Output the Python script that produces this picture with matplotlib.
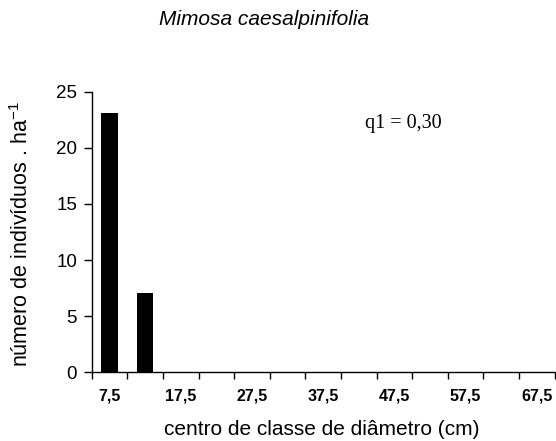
import matplotlib
matplotlib.use("Agg")
import matplotlib.pyplot as plt
import numpy as np

categories = [7.5, 12.5, 17.5, 22.5, 27.5, 32.5, 37.5, 42.5, 47.5, 52.5, 57.5, 62.5, 67.5]
values = [23.1, 7.1, 0, 0, 0, 0, 0, 0, 0, 0, 0, 0, 0]
shown_labels = ["7,5", "17,5", "27,5", "37,5", "47,5", "57,5", "67,5"]
y_ticks = [0, 5, 10, 15, 20, 25]

plt.rcParams['font.family'] = ['Liberation Sans', 'DejaVu Sans']

fig = plt.figure(figsize=(5.56, 4.41), dpi=100)
W, H = 556, 441
left, right, bottom, top = 91.7, 554.5, 372.3, 91.7
ax = fig.add_axes([left / W, 1 - bottom / H, (right - left) / W, (bottom - top) / H])

n = len(categories)
x = np.arange(n)
ax.bar(x, values, width=0.46, color='black', linewidth=0)
ax.set_xlim(-0.5, n - 0.5)
ax.set_ylim(0, 25)
ax.set_yticks(y_ticks)
ax.set_yticklabels([str(t) for t in y_ticks], fontsize=13.5)

# major ticks at category boundaries, minor ticks at centres carry the labels
ax.set_xticks(np.arange(n + 1) - 0.5)
ax.set_xticklabels([])
ax.set_xticks(x[::2], minor=True)
ax.set_xticklabels(shown_labels, minor=True, fontsize=11.5, fontweight='bold')
ax.tick_params(axis='x', which='minor', length=0, pad=12)
ax.tick_params(axis='x', which='major', length=5, width=1, direction='out')
ax.tick_params(axis='y', length=5.5, width=1, direction='out', pad=5)

for s in ['top', 'right']:
    ax.spines[s].set_visible(False)
for s in ['left', 'bottom']:
    ax.spines[s].set_linewidth(1)

fig.text(321.7 / W, 1 - 435 / H, 'centro de classe de diâmetro (cm)', fontsize=15,
         ha='center', va='baseline')
fig.text(22 / W, 1 - 234 / H, 'número de indivíduos . ha$^{\\mathregular{-1}}$', fontsize=15.5,
         rotation=90, ha='center', va='center')
fig.text(264 / W, 1 - 25 / H, 'Mimosa caesalpinifolia', fontsize=15, style='italic',
         ha='center', va='baseline')
fig.text(365 / W, 1 - 128.3 / H, 'q1 = 0,30', fontsize=14.5,
         family='Liberation Serif', ha='left', va='baseline')

fig.savefig('out.png', dpi=100)
